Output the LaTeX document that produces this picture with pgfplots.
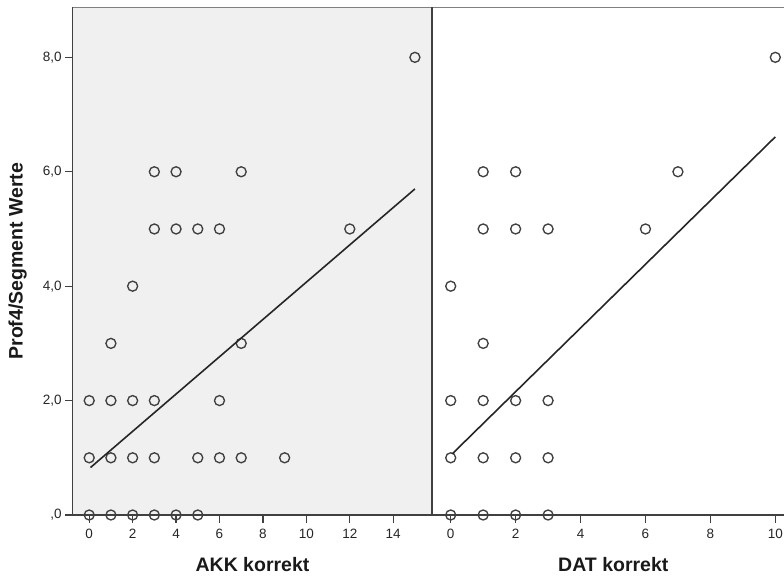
\documentclass[border=0pt]{standalone}
\usepackage{pgfplots}
\pgfplotsset{compat=1.18}
\usepackage{fontspec}
\setmainfont{Liberation Sans}
\definecolor{bgcol}{HTML}{F0F0F0}
\definecolor{framecol}{HTML}{404040}
\definecolor{markcol}{HTML}{404040}
\pgfplotsset{
  panel/.style={
    scale only axis,
    anchor=south west,
    height=507.7pt,
    ymin=0, ymax=8.875,
    axis line style={draw=none},
    clip mode=individual,
    tick align=outside,
    major tick length=7.5pt,
    tick style={framecol, line width=1.3pt},
    xtick pos=bottom,
    ytick pos=left,
    ticklabel style={font=\fontsize{13.5}{15}\selectfont, text=black!85},
    xticklabel style={yshift=-3pt},
    /pgf/number format/assume math mode=true,
    xlabel style={font=\fontsize{19.5}{22}\selectfont\bfseries, text=black!90,
      at={(axis description cs:0.5,0)}, anchor=center, yshift=-50pt},
    ylabel style={font=\fontsize{19.5}{22}\selectfont\bfseries, text=black!90,
      at={(axis description cs:0,0.5)}, anchor=center, yshift=55pt},
  },
  pts/.style={only marks, mark=o, mark size=5pt,
    mark options={draw=markcol, line width=1.35pt}},
  fit/.style={black!85, line width=1.6pt},
}
\begin{document}
\begin{tikzpicture}
\path[use as bounding box] (0pt,0pt) rectangle (784pt,576pt);
% left panel
\begin{axis}[panel,
  at={(72.7pt,61pt)}, width=359.6pt,
  xmin=-0.76, xmax=15.80,
  xtick={0,2,...,14},
  ytick={0,2,4,6,8},
  yticklabels={{,0},{2,0},{4,0},{6,0},{8,0}},
  axis background/.style={fill=bgcol},
  xlabel={AKK korrekt},
  ylabel={Prof4/Segment Werte},
]
\addplot[pts] table {
x y
15 8
3 6
4 6
7 6
3 5
4 5
5 5
6 5
12 5
2 4
1 3
7 3
0 2
1 2
2 2
3 2
6 2
0 1
1 1
2 1
3 1
5 1
6 1
7 1
9 1
0 0
1 0
2 0
3 0
4 0
5 0
};
\addplot[fit] coordinates {(0.06,0.83) (15,5.70)};
\draw[black!50, line width=1.3pt] (rel axis cs:0,1) -- (rel axis cs:1,1);
\draw[framecol, line width=1.6pt] (rel axis cs:0,1) -- (rel axis cs:0,0) -- (rel axis cs:1,0);
\draw[framecol, line width=1.8pt] (rel axis cs:1,0) -- (rel axis cs:1,1);
\end{axis}
% right panel
\begin{axis}[panel,
  at={(432.3pt,61pt)}, width=362pt,
  xmin=-0.567, xmax=10.585,
  xtick={0,2,...,10},
  ytick=\empty,
  xlabel={DAT korrekt},
]
\addplot[pts] table {
x y
10 8
1 6
2 6
7 6
1 5
2 5
3 5
6 5
0 4
1 3
0 2
1 2
2 2
3 2
0 1
1 1
2 1
3 1
0 0
1 0
2 0
3 0
};
\addplot[fit] coordinates {(0.05,1.07) (10,6.61)};
\draw[black!50, line width=1.3pt] (rel axis cs:0,1) -- (rel axis cs:1,1);
\draw[framecol, line width=1.6pt] (rel axis cs:0,0) -- (rel axis cs:1,0);
\draw[framecol, line width=1.8pt] (rel axis cs:0,0) -- (rel axis cs:0,1);
\end{axis}
\end{tikzpicture}
\end{document}
